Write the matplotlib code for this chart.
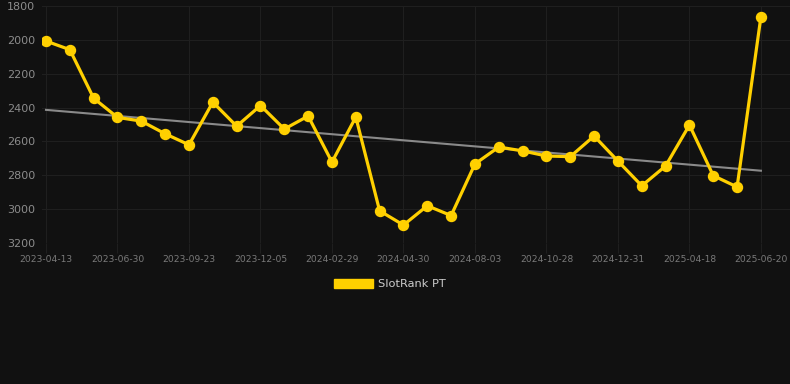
import numpy as np
import matplotlib
matplotlib.use("Agg")
import matplotlib.pyplot as plt
from matplotlib.patches import Patch

# valeurs (rang, axe inverse)
ranks = [2007, 2058, 2345, 2458, 2480, 2555, 2620, 2368, 2510, 2388,
         2527, 2450, 2722, 2456, 3010, 3094, 2980, 3038, 2733, 2633,
         2656, 2686, 2690, 2568, 2716, 2862, 2745, 2503, 2802, 2869, 1863]
tick_labels = ["2023-04-13", "2023-06-30", "2023-09-23", "2023-12-05",
               "2024-02-29", "2024-04-30", "2024-08-03", "2024-10-28",
               "2024-12-31", "2025-04-18", "2025-06-20"]
series_name = "SlotRank PT"

bg = "#111111"
gold = "#FFD000"

x = np.arange(len(ranks))
y = np.array(ranks)

fig = plt.figure(figsize=(7.9, 3.84), dpi=100, facecolor=bg)
ax = fig.add_axes([42/790, 1-243/384, 1-42/790, (243-6)/384])
ax.set_facecolor(bg)

# ligne de tendance (regression lineaire)
a, b = np.polyfit(x, y, 1)
ax.plot([x[0], x[-1]], [a*x[0]+b, a*x[-1]+b], color="#8a8a8a", lw=1.5, zorder=2)

ax.plot(x, y, color=gold, lw=2.3, marker="o", ms=7.2, zorder=3)

ax.set_ylim(3200, 1800)
ax.set_yticks(np.arange(1800, 3201, 200))
ax.set_xlim(-0.168, 31.22)
ax.set_xticks(x[::3])
ax.set_xticklabels(tick_labels)

ax.grid(True, color="#1f1f1f", lw=0.8)
for s in ax.spines.values():
    s.set_visible(False)
ax.tick_params(axis="y", length=0, pad=5, labelsize=8, labelcolor="#8c8c8c")
ax.tick_params(axis="x", length=7, color="#1f1f1f", pad=2, labelsize=6.6, labelcolor="#7a7a7a")

leg = fig.legend(handles=[Patch(facecolor=gold, edgecolor=gold)], labels=[series_name],
                 loc="center", bbox_to_anchor=(390/790, 1-284/384), frameon=False,
                 handlelength=3.4, handleheight=0.9, handletextpad=0.5,
                 fontsize=8.2, labelcolor="#cccccc")

fig.savefig("out.png", dpi=100, facecolor=bg)
